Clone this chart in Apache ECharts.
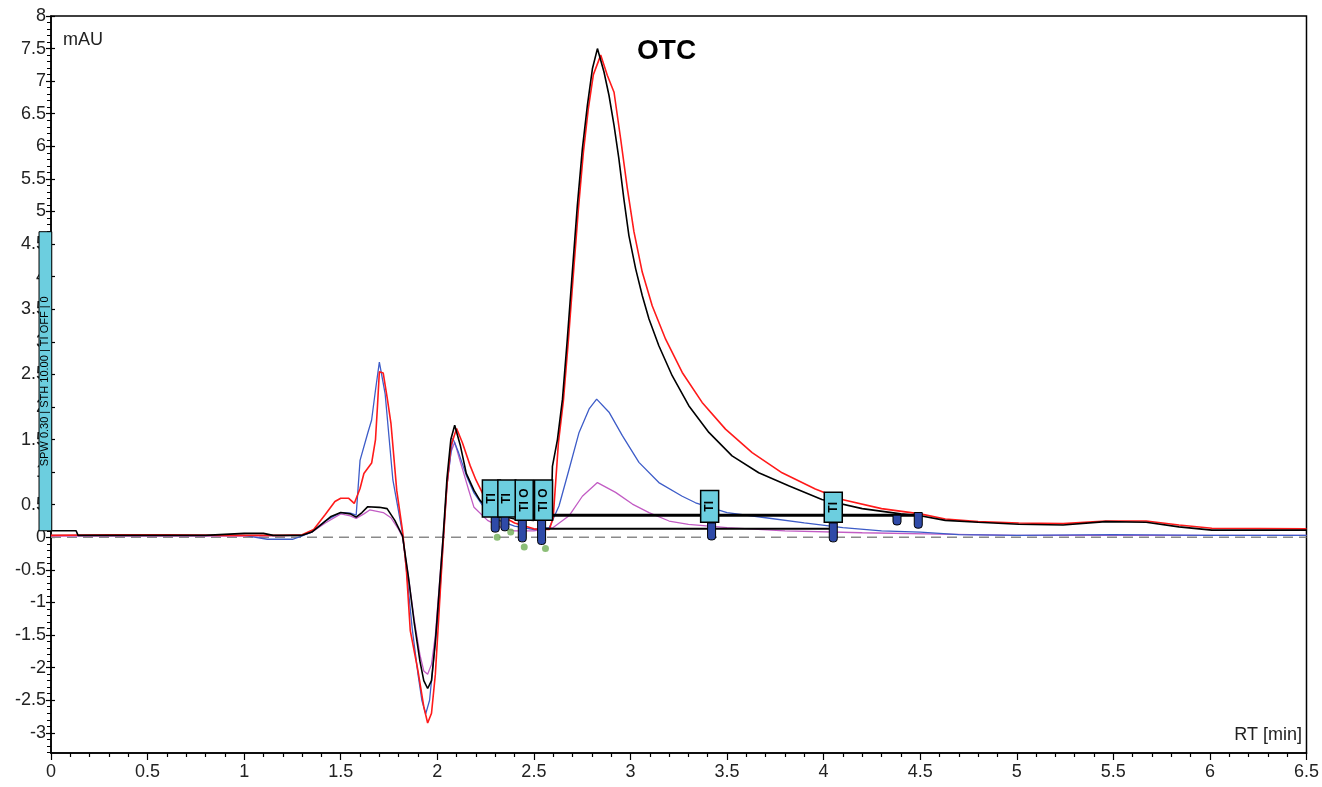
<!DOCTYPE html>
<html>
<head>
<meta charset="utf-8">
<script src="https://cdn.jsdelivr.net/npm/echarts@6/dist/echarts.min.js"></script>
<style>
  html, body { margin: 0; padding: 0; background: #ffffff; }
  #chart { width: 1322px; height: 787px; }
</style>
</head>
<body>
<div id="chart"></div>
<script>
// Retention time (min) / absorbance (mAU) traces of the four injections
const traceBlack = [
  [0, 0.1], [0.13, 0.1], [0.14, 0.03], [0.5, 0.03], [0.8, 0.03], [1.0, 0.06], [1.1, 0.06], [1.15, 0.03],
  [1.3, 0.03], [1.35, 0.08], [1.4, 0.2], [1.45, 0.32], [1.5, 0.38], [1.55, 0.36], [1.58, 0.31],
  [1.61, 0.38], [1.64, 0.47], [1.7, 0.46], [1.74, 0.44], [1.78, 0.26], [1.82, 0.02], [1.85, -0.6],
  [1.88, -1.3], [1.91, -1.9], [1.93, -2.2], [1.95, -2.32], [1.97, -2.2], [1.99, -1.6], [2.01, -0.8],
  [2.03, 0.0], [2.05, 0.9], [2.07, 1.5], [2.09, 1.72], [2.12, 1.4], [2.15, 0.98], [2.19, 0.72],
  [2.22, 0.57], [2.27, 0.42], [2.33, 0.33], [2.4, 0.28], [2.5, 0.26], [2.59, 0.35], [2.596, 1.09],
  [2.622, 1.5], [2.648, 2.12], [2.673, 3.04], [2.699, 4.07], [2.725, 5.09], [2.751, 5.96],
  [2.777, 6.63], [2.803, 7.19], [2.829, 7.5], [2.863, 7.14], [2.889, 6.78], [2.915, 6.32],
  [2.94, 5.81], [2.966, 5.19], [2.992, 4.63], [3.027, 4.12], [3.061, 3.71], [3.096, 3.35],
  [3.147, 2.94], [3.216, 2.48], [3.302, 2.02], [3.406, 1.61], [3.526, 1.25], [3.664, 0.99],
  [3.819, 0.79], [3.991, 0.58], [4.2, 0.44], [4.4, 0.36], [4.5, 0.33], [4.63, 0.26], [4.8, 0.23],
  [5.01, 0.2], [5.24, 0.19], [5.46, 0.24], [5.67, 0.23], [5.84, 0.16], [6.01, 0.11], [6.5, 0.11]
];

const traceRed = [
  [0, 0.03], [0.3, 0.04], [0.6, 0.04], [0.9, 0.03], [1.2, 0.03], [1.3, 0.04], [1.36, 0.12],
  [1.42, 0.35], [1.47, 0.55], [1.5, 0.6], [1.54, 0.6], [1.57, 0.52], [1.6, 0.75], [1.62, 0.98],
  [1.66, 1.14], [1.68, 1.5], [1.69, 2.0], [1.7, 2.54], [1.72, 2.52], [1.74, 2.15], [1.76, 1.75],
  [1.79, 0.72], [1.82, 0.1], [1.84, -0.5], [1.86, -1.43], [1.9, -2.05], [1.93, -2.6], [1.95, -2.85],
  [1.97, -2.7], [1.99, -2.1], [2.01, -1.1], [2.03, -0.1], [2.05, 0.8], [2.07, 1.4], [2.1, 1.67],
  [2.13, 1.45], [2.17, 1.1], [2.2, 0.88], [2.26, 0.52], [2.32, 0.35], [2.4, 0.22], [2.5, 0.13],
  [2.58, 0.12], [2.6, 0.3], [2.627, 1.45], [2.653, 2.1], [2.678, 3.0], [2.704, 4.02],
  [2.73, 5.02], [2.756, 5.9], [2.782, 6.58], [2.808, 7.1], [2.846, 7.4], [2.88, 7.09],
  [2.915, 6.83], [2.949, 6.12], [2.984, 5.35], [3.018, 4.69], [3.061, 4.07], [3.113, 3.55],
  [3.182, 3.04], [3.268, 2.53], [3.371, 2.07], [3.492, 1.66], [3.63, 1.3], [3.785, 0.99],
  [3.957, 0.74], [4.095, 0.58], [4.3, 0.44], [4.5, 0.36], [4.63, 0.28], [4.8, 0.24], [5.01, 0.22],
  [5.24, 0.21], [5.46, 0.25], [5.67, 0.25], [5.84, 0.19], [6.01, 0.14], [6.5, 0.13]
];

const traceBlue = [
  [0, 0.03], [0.5, 0.03], [1.0, 0.03], [1.12, -0.03], [1.25, -0.03], [1.3, 0.02], [1.35, 0.08],
  [1.42, 0.25], [1.5, 0.38], [1.55, 0.37], [1.58, 0.34], [1.6, 1.18], [1.64, 1.6], [1.66, 1.8],
  [1.68, 2.26], [1.7, 2.69], [1.73, 2.2], [1.77, 0.88], [1.82, 0.06], [1.84, -0.5], [1.87, -1.4],
  [1.9, -2.1], [1.92, -2.5], [1.94, -2.71], [1.96, -2.5], [1.98, -1.9], [2.01, -1.0], [2.03, -0.1],
  [2.05, 0.8], [2.08, 1.52], [2.11, 1.3], [2.15, 0.95], [2.19, 0.68], [2.25, 0.42], [2.32, 0.26],
  [2.4, 0.17], [2.5, 0.12], [2.58, 0.15], [2.63, 0.48], [2.682, 1.04], [2.734, 1.61],
  [2.786, 1.97], [2.825, 2.12], [2.889, 1.92], [2.958, 1.56], [3.044, 1.15], [3.147, 0.84],
  [3.268, 0.63], [3.337, 0.53], [3.5, 0.38], [3.7, 0.3], [3.9, 0.22], [4.1, 0.15], [4.3, 0.1],
  [4.5, 0.08], [4.7, 0.04], [5.0, 0.03], [5.5, 0.04], [6.0, 0.03], [6.5, 0.03]
];

const traceMagenta = [
  [0, 0.02], [0.5, 0.02], [1.0, 0.02], [1.3, 0.03], [1.35, 0.08], [1.42, 0.22], [1.5, 0.36],
  [1.55, 0.33], [1.58, 0.29], [1.62, 0.36], [1.65, 0.42], [1.72, 0.38], [1.76, 0.3], [1.8, 0.12],
  [1.82, 0.0], [1.85, -0.6], [1.88, -1.25], [1.91, -1.8], [1.93, -2.05], [1.95, -2.1], [1.97, -1.95],
  [1.99, -1.5], [2.01, -0.75], [2.03, 0.0], [2.05, 0.8], [2.07, 1.3], [2.09, 1.46], [2.12, 1.15],
  [2.16, 0.75], [2.19, 0.46], [2.26, 0.26], [2.33, 0.15], [2.4, 0.1], [2.5, 0.1], [2.6, 0.15],
  [2.682, 0.33], [2.751, 0.63], [2.829, 0.84], [2.923, 0.69], [3.01, 0.51], [3.096, 0.38],
  [3.2, 0.25], [3.3, 0.2], [3.5, 0.15], [3.8, 0.1], [4.2, 0.07], [4.6, 0.05], [5.0, 0.03],
  [6.0, 0.03], [6.5, 0.03]
];

// Integration baselines drawn under the main peak
const baselineUpper = [[2.27, 0.34], [4.5, 0.34]];
const baselineLower = [[2.55, 0.13], [4.05, 0.13]];

// Timed events: [time, lower mAU, upper mAU] and their flag text
const eventFlags = [[2.28, 0.31, 0.88], [2.36, 0.31, 0.88], [2.45, 0.26, 0.88], [2.55, 0.26, 0.88],
                    [3.41, 0.23, 0.72], [4.05, 0.23, 0.69]];
const eventFlagText = ['TI', 'TI', 'TI O', 'TI O', 'TI', 'TI'];
const eventTabs = [[2.3, 0.08, 0.38], [2.35, 0.1, 0.36], [2.44, -0.07, 0.27], [2.54, -0.11, 0.27],
                   [3.42, -0.04, 0.22], [4.05, -0.07, 0.22], [4.38, 0.19, 0.34], [4.49, 0.14, 0.38]];
const eventDots = [[2.31, 0.0], [2.38, 0.08], [2.45, -0.15], [2.56, -0.17]];

// Method parameter strip on the left of the axis: [x0, x1, y0, y1]
const methodStrip = [[-0.062, 0.004, 0.1, 4.69]];
const methodStripText = 'SPW 0.30 | STH 10.00 | TI OFF | 0';

// Axis tick labels
const xTickLabels = [0, 0.5, 1, 1.5, 2, 2.5, 3, 3.5, 4, 4.5, 5, 5.5, 6, 6.5];
const yTickLabels = [-3, -2.5, -2, -1.5, -1, -0.5, 0, 0.5, 1, 1.5, 2, 2.5, 3, 3.5, 4, 4.5,
                     5, 5.5, 6, 6.5, 7, 7.5, 8];

const Y_MIN = -3.31, Y_MAX = 8;
const yMinorTicks = [];
for (let v = -33; v <= 80; v++) yMinorTicks.push(+(v / 10).toFixed(1));

const FONT = "'Liberation Sans', Arial, sans-serif";
const FLAG_FILL = '#6ccedf';

const chart = echarts.init(document.getElementById('chart'), null, { renderer: 'canvas' });

function traceSeries(name, data, color, width) {
  return {
    name, type: 'line', data, showSymbol: false, symbol: 'none', animation: false,
    lineStyle: { color, width }, z: 3
  };
}

const option = {
  animation: false,
  backgroundColor: '#ffffff',
  grid: { left: 51, right: 13, top: 16, bottom: 34, show: true, borderColor: '#000', borderWidth: 1.5, backgroundColor: 'transparent' },
  xAxis: {
    type: 'value', min: 0, max: 6.5, interval: 0.5,
    axisLine: { onZero: false, lineStyle: { color: '#000', width: 1.5 } },
    axisTick: { show: true, length: 7, lineStyle: { color: '#000', width: 1.2 } },
    minorTick: { show: true, splitNumber: 5, length: 4, lineStyle: { color: '#000', width: 1.2 } },
    splitLine: { show: false },
    axisLabel: { color: '#222', fontSize: 18, fontFamily: FONT, margin: 10,
                 formatter: v => (xTickLabels.indexOf(v) >= 0 ? String(v) : '') }
  },
  yAxis: [
    {
      type: 'value', min: Y_MIN, max: Y_MAX,
      axisLine: { onZero: false, lineStyle: { color: '#000', width: 1.5 } },
      axisTick: { show: true, length: 5, customValues: yTickLabels, lineStyle: { color: '#000', width: 1.2 } },
      splitLine: { show: false },
      axisLabel: { color: '#222', fontSize: 18, fontFamily: FONT, margin: 5, customValues: yTickLabels,
                   formatter: v => String(v) }
    },
    {
      type: 'value', min: Y_MIN, max: Y_MAX, position: 'left',
      axisLine: { show: false },
      axisTick: { show: true, length: 4, customValues: yMinorTicks, lineStyle: { color: '#000', width: 1 } },
      axisLabel: { show: false }, splitLine: { show: false }
    },
    {
      type: 'value', min: Y_MIN, max: Y_MAX, position: 'left',
      axisLine: { show: false },
      axisTick: { show: true, inside: true, length: 4, customValues: yTickLabels, lineStyle: { color: '#000', width: 1.2 } },
      axisLabel: { show: false }, splitLine: { show: false }
    }
  ],
  graphic: [
    { type: 'text', left: 63, top: 31, style: { text: 'mAU', font: '18px ' + FONT, fill: '#222' } },
    { type: 'text', left: 637, top: 37, style: { text: 'OTC', font: 'bold 28px ' + FONT, fill: '#000' } },
    { type: 'text', right: 20, top: 726, style: { text: 'RT [min]', font: '18px ' + FONT, fill: '#222' } }
  ],
  series: [
    {
      name: 'zero', type: 'line', data: [[0, 0], [6.5, 0]], symbol: 'none', silent: true, z: 1,
      lineStyle: { color: '#8a8a8a', width: 1.5, type: [10, 6] }
    },
    traceSeries('Magenta', traceMagenta, '#c25cc4', 1.3),
    traceSeries('Blue', traceBlue, '#3d5cc8', 1.3),
    traceSeries('Red', traceRed, '#ff1a1a', 1.6),
    traceSeries('Black', traceBlack, '#000000', 1.6),
    {
      name: 'baseline1', type: 'line', data: baselineUpper, symbol: 'none', z: 4,
      lineStyle: { color: '#000', width: 3 }
    },
    {
      name: 'baseline2', type: 'line', data: baselineLower, symbol: 'none', z: 4,
      lineStyle: { color: '#000', width: 2 }
    },
    {
      name: 'tabs', type: 'custom', z: 5, clip: false, data: eventTabs,
      renderItem: (params, api) => {
        const top = api.coord([api.value(0), api.value(2)]);
        const bot = api.coord([api.value(0), api.value(1)]);
        return {
          type: 'rect',
          shape: { x: top[0] - 4, y: top[1], width: 8, height: bot[1] - top[1], r: [0, 0, 3, 3] },
          style: { fill: '#2f4aa8', stroke: '#000', lineWidth: 1 }
        };
      }
    },
    {
      name: 'dots', type: 'scatter', data: eventDots, symbol: 'circle', symbolSize: 7, z: 5,
      itemStyle: { color: '#6fae55' }
    },
    {
      name: 'flags', type: 'custom', z: 6, clip: false, data: eventFlags,
      renderItem: (params, api) => {
        const top = api.coord([api.value(0), api.value(2)]);
        const bot = api.coord([api.value(0), api.value(1)]);
        const w = 18;
        const h = bot[1] - top[1];
        return {
          type: 'group',
          children: [
            { type: 'rect', shape: { x: top[0] - w / 2, y: top[1], width: w, height: h },
              style: { fill: FLAG_FILL, stroke: '#000', lineWidth: 1.5 } },
            { type: 'text', x: top[0], y: top[1] + h / 2, rotation: Math.PI / 2,
              style: { text: eventFlagText[params.dataIndex], font: 'bold 12px ' + FONT, fill: '#000',
                       align: 'center', verticalAlign: 'middle' } }
          ]
        };
      }
    },
    {
      name: 'method', type: 'custom', z: 6, clip: false, data: methodStrip,
      renderItem: (params, api) => {
        const p0 = api.coord([api.value(0), api.value(3)]);
        const p1 = api.coord([api.value(1), api.value(2)]);
        const w = p1[0] - p0[0], h = p1[1] - p0[1];
        return {
          type: 'group',
          children: [
            { type: 'rect', shape: { x: p0[0], y: p0[1], width: w, height: h },
              style: { fill: FLAG_FILL, stroke: '#000', lineWidth: 1 } },
            { type: 'text', x: p0[0] + w / 2, y: p0[1] + h / 2, rotation: Math.PI / 2,
              style: { text: methodStripText, font: '11px ' + FONT, fill: '#000',
                       align: 'center', verticalAlign: 'middle' } }
          ]
        };
      }
    }
  ]
};

chart.setOption(option);
</script>
</body>
</html>
